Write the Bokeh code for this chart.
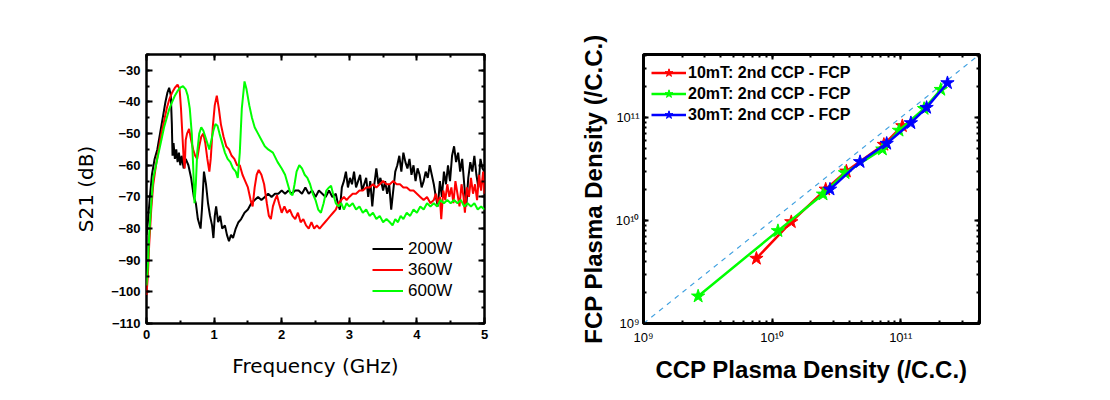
from bokeh.plotting import figure
from bokeh.layouts import row
from bokeh.models import (LinearAxis, LogAxis, SingleIntervalTicker, LogTicker,
                          Legend, LegendItem, CustomJSTickFormatter, Range1d)
from bokeh.embed import file_html
from bokeh.resources import INLINE

# ---------------- Left chart data: S21 vs frequency ----------------
f_200 = [0.00, 0.02, 0.05, 0.08, 0.12, 0.16, 0.20, 0.24, 0.28, 0.31, 0.335, 0.36, 0.375, 0.385,
         0.40, 0.42, 0.44, 0.46, 0.48, 0.50, 0.52, 0.55, 0.58, 0.62, 0.66, 0.70, 0.73, 0.76, 0.80,
         0.82, 0.85, 0.88, 0.91, 0.94, 0.97, 0.99, 1.01, 1.03, 1.06, 1.09, 1.12, 1.16, 1.19, 1.22,
         1.25, 1.28, 1.32, 1.36, 1.40, 1.45, 1.50, 1.55, 1.60, 1.65, 1.70, 1.75, 1.80, 1.85, 1.90,
         1.95, 2.00, 2.05, 2.10, 2.15, 2.20, 2.25, 2.30, 2.35, 2.40, 2.45, 2.50, 2.55, 2.60, 2.65,
         2.70, 2.75, 2.80, 2.83, 2.86, 2.89, 2.92, 2.95, 2.98, 3.01, 3.04, 3.07, 3.10, 3.13, 3.16,
         3.19, 3.22, 3.25, 3.28, 3.31, 3.34, 3.37, 3.40, 3.43, 3.46, 3.50, 3.53, 3.56, 3.59, 3.62,
         3.65, 3.68, 3.71, 3.74, 3.77, 3.80, 3.83, 3.86, 3.89, 3.92, 3.95, 3.98, 4.01, 4.04, 4.07,
         4.10, 4.13, 4.16, 4.19, 4.22, 4.25, 4.28, 4.31, 4.34, 4.37, 4.40, 4.43, 4.46, 4.49, 4.52,
         4.55, 4.58, 4.61, 4.64, 4.67, 4.70, 4.73, 4.76, 4.79, 4.82, 4.85, 4.88, 4.91, 4.94, 4.97,
         5.00]
s21_200 = [-82, -78, -70, -63, -58, -55, -50, -45, -40, -37, -35.5, -38, -47, -57,
           -53, -58, -55, -59, -56, -60, -57, -61, -58, -60, -64, -70, -72, -77, -80,
           -74, -62, -66, -72, -76, -79, -83, -76, -73, -78, -76, -80, -79, -82, -84,
           -82, -83, -80, -78, -77, -75, -74, -72, -71, -70, -71, -70, -69, -70, -69,
           -69, -68, -69, -68, -69, -68, -68, -69, -67, -69, -68, -70, -68, -69, -70,
           -68, -70, -69, -72, -74, -67, -65, -62, -67, -64, -66, -62, -67, -65, -63,
           -68, -66, -64, -70, -65, -73, -66, -61, -66, -64, -68, -65, -69, -66, -74,
           -68, -62, -60, -57, -62, -56, -59, -61, -58, -63, -60, -65, -61, -63, -67,
           -65, -62, -64, -60, -63, -66, -70, -73, -65, -70, -62, -66, -60, -65, -57,
           -54, -59, -56, -62, -58, -66, -73, -64, -59, -62, -57, -63, -67, -58, -61,
           -62]

f_360 = [0.00, 0.02, 0.04, 0.07, 0.10, 0.14, 0.18, 0.22, 0.26, 0.30, 0.34, 0.38, 0.42, 0.46,
         0.49, 0.51, 0.53, 0.55, 0.565, 0.58, 0.60, 0.63, 0.66, 0.69, 0.72, 0.75, 0.78, 0.81,
         0.84, 0.87, 0.90, 0.93, 0.95, 0.98, 1.01, 1.04, 1.07, 1.10, 1.14, 1.18, 1.22, 1.26,
         1.30, 1.34, 1.38, 1.42, 1.46, 1.50, 1.54, 1.57, 1.60, 1.63, 1.66, 1.70, 1.74, 1.78,
         1.81, 1.84, 1.87, 1.90, 1.93, 1.96, 2.00, 2.04, 2.08, 2.12, 2.16, 2.20, 2.24, 2.28,
         2.32, 2.36, 2.40, 2.44, 2.48, 2.52, 2.56, 2.60, 2.64, 2.68, 2.72, 2.76, 2.80, 2.84,
         2.88, 2.92, 2.96, 3.00, 3.05, 3.10, 3.15, 3.20, 3.25, 3.30, 3.35, 3.40, 3.45, 3.50,
         3.55, 3.60, 3.65, 3.70, 3.75, 3.80, 3.85, 3.90, 3.95, 4.00, 4.05, 4.10, 4.15, 4.20,
         4.25, 4.28, 4.31, 4.34, 4.36, 4.39, 4.42, 4.45, 4.48, 4.51, 4.54, 4.57, 4.60, 4.63,
         4.66, 4.69, 4.71, 4.74, 4.77, 4.80, 4.83, 4.86, 4.89, 4.92, 4.95, 4.98, 5.00]
s21_360 = [-101, -95, -85, -74, -66, -60, -55, -50, -46, -42, -39, -37, -35.5, -34.5,
           -36, -42, -50, -58, -61, -52, -50, -48.5, -52, -55, -57, -58, -54, -51,
           -50, -53, -58, -62, -58, -48, -41, -38, -42, -47, -51, -54, -55, -57,
           -58, -60, -60, -63, -65, -67, -71, -73, -67, -63, -61.5, -63, -66, -72,
           -76, -77, -73, -71, -69.5, -72, -75, -73, -75, -74, -76, -77, -75, -78,
           -77, -79, -80, -78, -80, -79, -80, -79, -78, -77, -76, -75, -74, -72,
           -71, -70, -71, -70, -69, -69, -68, -68, -67, -67, -66, -67, -66, -65,
           -66, -66, -65, -66, -66, -67, -67, -68, -68, -69, -70, -71, -70, -72,
           -71, -69, -72, -70, -77, -68, -71, -66, -70, -67, -72, -65, -69, -73,
           -66, -70, -75, -67, -70, -64, -69, -66, -71, -63, -68, -62, -69]

f_600 = [0.00, 0.02, 0.04, 0.07, 0.10, 0.14, 0.18, 0.22, 0.26, 0.30, 0.34, 0.38, 0.42, 0.46,
         0.50, 0.54, 0.58, 0.61, 0.64, 0.67, 0.69, 0.71, 0.73, 0.75, 0.78, 0.81, 0.84, 0.87,
         0.90, 0.93, 0.96, 0.99, 1.02, 1.05, 1.08, 1.12, 1.16, 1.20, 1.24, 1.28, 1.32, 1.35,
         1.38, 1.41, 1.45, 1.48, 1.52, 1.56, 1.60, 1.65, 1.70, 1.75, 1.80, 1.87, 1.94, 2.00,
         2.05, 2.09, 2.13, 2.16, 2.19, 2.22, 2.26, 2.30, 2.34, 2.38, 2.42, 2.46, 2.50, 2.54,
         2.58, 2.62, 2.66, 2.70, 2.73, 2.76, 2.80, 2.84, 2.88, 2.92, 2.96, 3.00, 3.05, 3.10,
         3.15, 3.20, 3.25, 3.30, 3.35, 3.40, 3.45, 3.50, 3.55, 3.60, 3.64, 3.68, 3.72, 3.76,
         3.80, 3.85, 3.90, 3.95, 4.00, 4.05, 4.10, 4.15, 4.20, 4.25, 4.30, 4.35, 4.40, 4.45,
         4.50, 4.55, 4.60, 4.65, 4.70, 4.75, 4.80, 4.85, 4.90, 4.95, 5.00]
s21_600 = [-98, -92, -82, -72, -64, -60, -56, -52, -48, -45, -42, -40, -38, -36.5,
           -35.5, -35, -36, -38, -42, -50, -60, -72, -66, -56, -50, -48, -49, -51,
           -53, -55, -52, -49, -47, -47.5, -50, -53, -56, -58, -59, -61, -62, -64,
           -56, -42, -33.5, -36, -41, -45, -48, -50, -52, -54, -55, -56, -59, -61,
           -63, -66, -69, -69.5, -66, -62, -60, -61, -63, -64, -66, -69, -71, -74,
           -75, -72, -68, -67, -66.5, -69, -72, -73, -72, -74, -72, -73, -72, -74,
           -73, -75, -74, -76, -75, -77, -76, -78, -77, -78, -79, -77, -78, -76,
           -77, -75, -76, -74, -75, -73, -74, -72, -73, -72, -73, -71, -72, -71,
           -72, -71, -72, -71, -73, -72, -73, -72, -74, -73, -74]

left_series = ["200W", "360W", "600W"]
left_colors = ["#000000", "#ff0000", "#00ff00"]

# ---------------- Right chart data: FCP vs CCP plasma density ----------------
ccp_10 = [7.55e9, 1.41e10, 2.61e10, 3.78e10, 7.4e10, 1.03e11]
fcp_10 = [4.28e9, 9.7e9, 2.01e10, 3.01e10, 5.47e10, 8.3e10]
ccp_20 = [2.66e9, 1.11e10, 2.49e10, 3.69e10, 7.2e10, 9.7e10, 1.52e11, 2.05e11]
fcp_20 = [1.84e9, 7.94e9, 1.80e10, 2.90e10, 4.93e10, 7.5e10, 1.22e11, 1.87e11]
ccp_30 = [2.82e10, 4.83e10, 7.78e10, 1.20e11, 1.59e11, 2.31e11]
fcp_30 = [2.01e10, 3.72e10, 5.6e10, 8.87e10, 1.25e11, 2.17e11]
diag = [1e9, 4.1e11]
right_series = ["10mT: 2nd CCP - FCP", "20mT: 2nd CCP - FCP", "30mT: 2nd CCP - FCP"]
right_colors = ["#ff0000", "#00ff00", "#0000ff"]

FONT = "Liberation Sans"

# ---------------- Left figure ----------------
p1 = figure(width=560, height=388, output_backend="svg", toolbar_location=None,
            x_range=Range1d(0, 5), y_range=Range1d(-110, -25),
            min_border_left=146, min_border_right=76, min_border_top=53, min_border_bottom=65)
p1.grid.visible = False
p1.outline_line_color = "black"
p1.outline_line_width = 2.5

xt = SingleIntervalTicker(interval=1, num_minor_ticks=2)
yt = SingleIntervalTicker(interval=10, num_minor_ticks=2)
p1.xaxis.ticker = xt
p1.yaxis.ticker = yt

for ax in [p1.xaxis[0], p1.yaxis[0]]:
    ax.axis_line_color = None
    ax.major_tick_in = 6
    ax.major_tick_out = 0
    ax.minor_tick_in = 3
    ax.minor_tick_out = 0
    ax.major_tick_line_width = 2
    ax.minor_tick_line_width = 2
    ax.major_label_text_font = FONT
    ax.major_label_text_font_style = "bold"
    ax.major_label_text_font_size = "13px"
    ax.major_label_text_color = "black"
    ax.axis_label_text_font = "DejaVu Sans"
    ax.axis_label_text_font_style = "normal"
    ax.axis_label_text_font_size = "20px"
    ax.axis_label_text_color = "black"
p1.xaxis.axis_label = "Frequency (GHz)"
p1.yaxis.axis_label = "S21 (dB)"
p1.xaxis.major_label_standoff = 6
p1.yaxis.major_label_standoff = 6
p1.xaxis.axis_label_standoff = 12
p1.yaxis.axis_label_standoff = 10

for loc, tk in [("above", xt), ("right", yt)]:
    a = LinearAxis(ticker=tk, axis_line_color=None, major_tick_in=6, major_tick_out=0,
                   minor_tick_in=3, minor_tick_out=0, major_tick_line_width=2,
                   minor_tick_line_width=2, major_label_text_color=None)
    p1.add_layout(a, loc)

left_renderers = []
for fx, sy, c in [(f_200, s21_200, left_colors[0]), (f_360, s21_360, left_colors[1]),
                  (f_600, s21_600, left_colors[2])]:
    r = p1.line(fx, sy, line_color=c, line_width=2)
    left_renderers.append(r)

leg1 = Legend(items=[LegendItem(label=n, renderers=[r]) for n, r in zip(left_series, left_renderers)],
              location=(226, 22), padding=0, margin=0, spacing=0,
              border_line_color=None, background_fill_alpha=0,
              label_text_font=FONT, label_text_font_size="17px", label_text_color="black",
              glyph_width=31, glyph_height=21, label_height=21, label_standoff=5)
p1.add_layout(leg1)

# ---------------- Right figure ----------------
p2 = figure(width=540, height=388, output_backend="svg", toolbar_location=None,
            x_axis_type="log", y_axis_type="log",
            x_range=Range1d(1e9, 4.1e11), y_range=Range1d(1e9, 4.1e11),
            min_border_left=83, min_border_right=121, min_border_top=54, min_border_bottom=65)
p2.grid.visible = False
p2.outline_line_color = "black"
p2.outline_line_width = 3

sup_js = """
const s = {'0':'\u2070','1':'\u00b9','2':'\u00b2','3':'\u00b3','4':'\u2074','5':'\u2075',
           '6':'\u2076','7':'\u2077','8':'\u2078','9':'\u2079','-':'\u207b'};
const e = Math.round(Math.log10(tick));
return '10' + String(e).split('').map(c => s[c]).join('');
"""

def make_fmt():
    return CustomJSTickFormatter(code=sup_js)

for ax in [p2.xaxis[0], p2.yaxis[0]]:
    ax.ticker = LogTicker(num_minor_ticks=10)
    ax.formatter = make_fmt()
    ax.axis_line_color = None
    ax.major_tick_in = 5
    ax.major_tick_out = 0
    ax.minor_tick_in = 3
    ax.minor_tick_out = 0
    ax.major_tick_line_width = 2
    ax.minor_tick_line_width = 2
    ax.major_label_text_font = FONT
    ax.major_label_text_font_size = "13px"
    ax.major_label_text_color = "black"
    ax.axis_label_text_font = FONT
    ax.axis_label_text_font_style = "bold"
    ax.axis_label_text_font_size = "24px"
    ax.axis_label_text_color = "black"
p2.xaxis.axis_label = "CCP Plasma Density (/C.C.)"
p2.yaxis.axis_label = "FCP Plasma Density (/C.C.)"
p2.xaxis.major_label_standoff = 6
p2.yaxis.major_label_standoff = 4
p2.xaxis.axis_label_standoff = 8
p2.yaxis.axis_label_standoff = 6

for loc in ["above", "right"]:
    a = LogAxis(ticker=LogTicker(num_minor_ticks=10), formatter=make_fmt(),
                axis_line_color=None, major_tick_in=5, major_tick_out=0,
                minor_tick_in=3, minor_tick_out=0, major_tick_line_width=2,
                minor_tick_line_width=2, major_label_text_color=None)
    p2.add_layout(a, loc)

p2.line(diag, diag, line_color="#3fa0e0", line_width=1.2, line_dash="5 5")

items = []
for xs, ys, c, n in [(ccp_10, fcp_10, right_colors[0], right_series[0]),
                     (ccp_20, fcp_20, right_colors[1], right_series[1]),
                     (ccp_30, fcp_30, right_colors[2], right_series[2])]:
    l = p2.line(xs, ys, line_color=c, line_width=2.5)
    s = p2.scatter(xs, ys, marker="star", size=14, fill_color=c, line_color=c)
    items.append(LegendItem(label=n, renderers=[l, s]))

leg2 = Legend(items=items, location="top_left", padding=0, margin=8, spacing=0,
              border_line_color=None, background_fill_alpha=0,
              label_text_font=FONT, label_text_font_style="bold", label_text_font_size="16px",
              label_text_color="black",
              glyph_width=35, glyph_height=21, label_height=21, label_standoff=2)
p2.add_layout(leg2)

layout = row(p1, p2)
open("out.html", "w").write(file_html(layout, INLINE))
